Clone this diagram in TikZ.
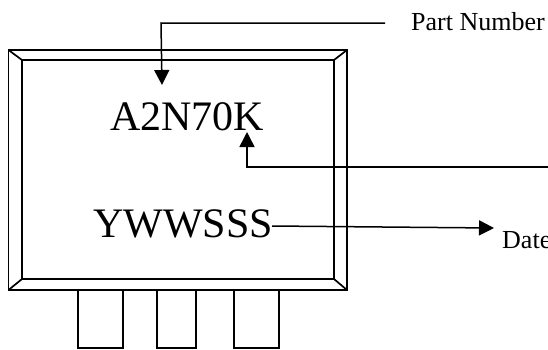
\documentclass[tikz,border=0pt]{standalone}
\usepackage{fontspec}
\setmainfont{Liberation Serif}
\usetikzlibrary{arrows.meta}
\tikzset{
  ln/.style={draw=black,line width=1.7pt},
  pin/.style={draw=black,line width=1.5pt},
  leader/.style={draw=black,line width=1.5pt,-{Triangle[length=15pt,width=15pt]}},
  bigtxt/.style={inner sep=0pt,anchor=base west,font=\fontsize{42}{42}\selectfont},
  smalltxt/.style={inner sep=0pt,anchor=base west,font=\fontsize{26}{26}\selectfont}
}
\begin{document}
\begin{tikzpicture}[x=1pt,y=-1pt]
\useasboundingbox (0,0) rectangle (548,349);
\fill[white] (0,0) rectangle (548,349);
\coordinate (o1) at (8.5,50);\coordinate (o2) at (347,50);\coordinate (o3) at (347,290);\coordinate (o4) at (8.5,290);
\coordinate (i1) at (22,60);\coordinate (i2) at (334,60);\coordinate (i3) at (334,279);\coordinate (i4) at (22,279);
\draw[pin] (78,290) rectangle (123,348);
\draw[pin] (157,290) rectangle (196,348);
\draw[pin] (234,290) rectangle (279,348);
\draw[ln] (o1) -- (o2) -- (o3) -- (o4) -- cycle;
\draw[ln] (i1) -- (i2) -- (i3) -- (i4) -- cycle;
\draw[ln] (o1) -- (i1) (o2) -- (i2) (o3) -- (i3) (o4) -- (i4);
\node[bigtxt] (pn) at (110,130) {A2N70K};
\node[bigtxt] (dc) at (93,237) {YWWSSS};
\node[smalltxt] (plabel) at (411,30) {Part Number};
\node[smalltxt] (dlabel) at (502,248) {Date};
\coordinate (a0) at (385,23);\coordinate (a1) at (161,23);\coordinate (a2) at (162,85);
\coordinate (b0) at (548,167);\coordinate (b1) at (247,167);\coordinate (b2) at (247,132);
\coordinate (c0) at (272,226);\coordinate (c2) at (494,228);
\draw[leader] (a0) -- (a1) -- (a2);
\draw[leader] (b0) -- (b1) -- (b2);
\draw[leader] (c0) -- (c2);
\end{tikzpicture}
\end{document}
